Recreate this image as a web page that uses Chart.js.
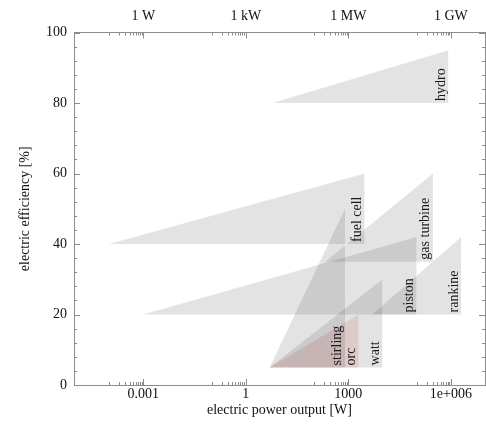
<!DOCTYPE html>
<html>
<head>
<meta charset="utf-8">
<script src="https://cdn.jsdelivr.net/npm/chart.js@4.4.1/dist/chart.umd.min.js"></script>
<style>
  body { margin: 0; background: #fff; }
  canvas { display: block; }
</style>
</head>
<body>
<canvas id="chart" width="486" height="434"></canvas>
<script>
// power ranges and efficiency ranges per conversion technology
const techNames = ['hydro', 'fuel cell', 'gas turbine', 'piston', 'rankine', 'stirling', 'orc', 'watt'];
const powerMin  = [6, 1e-4, 210, 1e-3, 5000, 5, 5, 5];
const powerMax  = [850000, 3000, 3e5, 1e5, 2e6, 800, 2000, 1e4];
const effMin    = [80, 40, 35, 20, 20, 5, 5, 5];
const effMax    = [95, 60, 60, 42, 42, 50, 20, 30];

// axis ticks
const xTicks = [1e-3, 1, 1e3, 1e6];
const xTickLabels = ['0.001', '1', '1000', '1e+006'];
const x2TickLabels = ['1 W', '1 kW', '1 MW', '1 GW'];
const yTicks = [0, 20, 40, 60, 80, 100];

const serif = "'Liberation Serif', 'Times New Roman', serif";
const axisColor = '#8c8c8c';
const greyFill = 'rgba(0, 0, 0, 0.11)';
const redFill = 'rgba(190, 30, 30, 0.13)';

const datasets = techNames.map((name, i) => ({
  label: name,
  data: [{ x: powerMin[i], y: effMin[i] }, { x: powerMax[i], y: effMax[i] }],
  showLine: true,
  borderWidth: 0,
  borderColor: 'transparent',
  pointRadius: 0,
  backgroundColor: name === 'orc' ? redFill : greyFill,
  fill: { value: effMin[i] },
}));

// small inward tick marks on all four sides
const inwardTicks = {
  id: 'inwardTicks',
  afterDraw(chart) {
    const { ctx, chartArea: a, scales } = chart;
    ctx.save();
    ctx.strokeStyle = axisColor;
    ctx.lineWidth = 1;
    ctx.beginPath();
    for (let v = 0; v <= 100; v += 4) {
      const py = Math.round(scales.y.getPixelForValue(v)) + 0.5;
      const len = yTicks.includes(v) ? 6 : 3;
      ctx.moveTo(a.left, py); ctx.lineTo(a.left + len, py);
      ctx.moveTo(a.right, py); ctx.lineTo(a.right - len, py);
    }
    xTicks.forEach(m => {
      for (let k = 1; k <= 10; k++) {
        const px = Math.round(scales.x.getPixelForValue(k * m / 10)) + 0.5;
        const len = k === 10 ? 6 : 3;
        ctx.moveTo(px, a.bottom); ctx.lineTo(px, a.bottom - len);
        ctx.moveTo(px, a.top); ctx.lineTo(px, a.top + len);
      }
    });
    ctx.stroke();
    ctx.restore();
  }
};

// names written upward along the right edge of each triangle
const techLabels = {
  id: 'techLabels',
  afterDatasetsDraw(chart) {
    const { ctx, scales } = chart;
    ctx.save();
    ctx.fillStyle = '#1a1a1a';
    ctx.font = '14px ' + serif;
    ctx.textAlign = 'left';
    ctx.textBaseline = 'alphabetic';
    techNames.forEach((name, i) => {
      const px = scales.x.getPixelForValue(powerMax[i]) - 3.5;
      const py = scales.y.getPixelForValue(effMin[i]) - 2;
      ctx.save();
      ctx.translate(px, py);
      ctx.rotate(-Math.PI / 2);
      ctx.fillText(name, 0, 0);
      ctx.restore();
    });
    ctx.restore();
  }
};

const setTicks = values => scale => { scale.ticks = values.map(v => ({ value: v })); };
const tickFont = { family: serif, size: 14 };

new Chart(document.getElementById('chart'), {
  type: 'scatter',
  data: { datasets },
  options: {
    responsive: false,
    animation: false,
    devicePixelRatio: 1,
    layout: { padding: 0 },
    plugins: { legend: { display: false }, tooltip: { enabled: false } },
    scales: {
      x: {
        type: 'logarithmic',
        position: 'bottom',
        min: 9.4e-6,
        max: 1e7,
        afterBuildTicks: setTicks(xTicks),
        afterFit: s => { s.height = 49; },
        grid: { display: false, drawTicks: false },
        border: { display: true, color: axisColor },
        ticks: {
          color: '#111', font: tickFont, padding: 1, maxRotation: 0, autoSkip: false,
          callback: (v, i) => xTickLabels[i]
        },
        title: {
          display: true, text: 'electric power output [W]', color: '#111',
          font: tickFont, padding: { top: 0, bottom: 15 }
        }
      },
      x2: {
        type: 'logarithmic',
        position: 'top',
        min: 9.4e-6,
        max: 1e7,
        afterBuildTicks: setTicks(xTicks),
        afterFit: s => { s.height = 32.5; },
        grid: { display: false, drawTicks: false },
        border: { display: true, color: axisColor },
        ticks: {
          color: '#111', font: tickFont, padding: 8, maxRotation: 0, autoSkip: false,
          callback: (v, i) => x2TickLabels[i]
        }
      },
      y: {
        type: 'linear',
        position: 'left',
        min: 0,
        max: 100,
        afterBuildTicks: setTicks(yTicks),
        afterFit: s => { s.width = 74; },
        grid: { display: false, drawTicks: false },
        border: { display: true, color: axisColor },
        ticks: { color: '#111', font: tickFont, padding: 7 },
        title: {
          display: true, text: 'electric efficiency [%]', color: '#111',
          font: tickFont, padding: { top: 17, bottom: 0 }
        }
      },
      y2: {
        type: 'linear',
        position: 'right',
        min: 0,
        max: 100,
        afterFit: s => { s.width = 1; },
        grid: { display: false, drawTicks: false },
        border: { display: true, color: axisColor },
        ticks: { display: false }
      }
    }
  },
  plugins: [inwardTicks, techLabels]
});
</script>
</body>
</html>
